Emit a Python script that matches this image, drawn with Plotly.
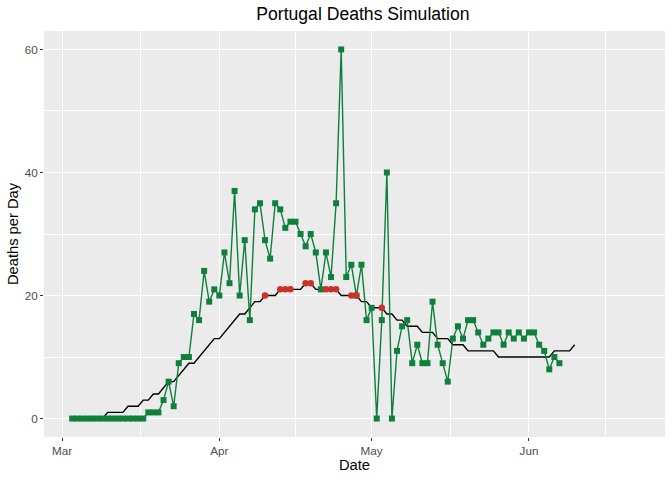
import pandas as pd
import plotly.graph_objects as go

# Observed daily deaths (green), starting 2020-03-03
deaths = [0, 0, 0, 0, 0, 0, 0, 0, 0, 0, 0, 0, 0, 0, 0,
          1, 1, 1, 3, 6, 2, 9, 10, 10, 17, 16, 24, 19, 21, 20,
          27, 22, 37, 20, 29, 16, 34, 35, 29, 26, 35, 34, 31, 32, 32,
          30, 28, 30, 27, 21, 27, 23, 35, 60, 23, 25, 20, 25, 16, 18,
          0, 16, 40, 0, 11, 15, 16, 9, 12, 9, 9, 19, 12, 9, 6,
          13, 15, 13, 16, 16, 14, 12, 13, 14, 14, 12, 14, 13, 14, 13,
          14, 14, 12, 11, 8, 10, 9]

# Simulated daily deaths (black), starting 2020-03-03
sim = [0, 0, 0, 0, 0, 0, 0, 1, 1, 1, 1, 2, 2, 2, 3, 3, 4, 4, 5, 6,
       6, 7, 8, 9, 9, 10, 11, 12, 13, 13, 14, 15, 16, 17, 17, 18, 19, 19, 20, 20,
       20, 21, 21, 21, 21, 21, 22, 22, 21, 21, 21, 21, 21, 20, 20, 20, 20, 19, 19, 18,
       18, 18, 17, 17, 16, 16, 15, 15, 15, 14, 14, 14, 13, 13, 13, 12, 12, 12, 11, 11,
       11, 11, 11, 11, 10, 10, 10, 10, 10, 10, 10, 10, 10, 10, 10, 11, 11, 11, 11, 12]

# Highlighted simulation days (red)
red_dates = ["2020-04-10", "2020-04-13", "2020-04-14", "2020-04-15", "2020-04-18", "2020-04-19",
             "2020-04-22", "2020-04-23", "2020-04-24", "2020-04-27", "2020-04-28", "2020-05-03"]
red_vals = [20, 21, 21, 21, 22, 22, 21, 21, 21, 20, 20, 18]

death_dates = pd.date_range("2020-03-03", periods=len(deaths), freq="D")
sim_dates = pd.date_range("2020-03-03", periods=len(sim), freq="D")

green = "#0E803C"
red = "#CB3029"

fig = go.Figure()

fig.add_trace(go.Scatter(x=sim_dates, y=sim, mode="lines",
                         line=dict(color="black", width=1.4)))

fig.add_trace(go.Scatter(x=death_dates, y=deaths, mode="lines+markers",
                         line=dict(color=green, width=1.4),
                         marker=dict(symbol="square", size=6, color=green)))

fig.add_trace(go.Scatter(x=red_dates, y=red_vals, mode="markers",
                         marker=dict(symbol="circle", size=6.5, color=red)))

font = "Liberation Sans, Arial, sans-serif"

fig.update_layout(
    width=672, height=480,
    margin=dict(l=44, r=7, t=31, b=42.5),
    paper_bgcolor="white",
    plot_bgcolor="#EBEBEB",
    showlegend=False,
    font=dict(family=font, color="#4D4D4D"),
    title=dict(text="Portugal Deaths Simulation", x=0.54, xanchor="center",
               y=1 - 14 / 480, yanchor="middle",
               font=dict(size=17.6, color="black", family=font)),
)

fig.update_xaxes(
    range=["2020-02-26 10:48", "2020-06-27 19:12"],
    tickvals=["2020-03-01", "2020-04-01", "2020-05-01", "2020-06-01"],
    tickformat="%b",
    ticks="outside", ticklen=3, tickcolor="#333333", tickwidth=1,
    tickfont=dict(size=11.7, color="#4D4D4D"),
    showgrid=True, gridcolor="white", gridwidth=1.4,
    minor=dict(tickmode="array",
               tickvals=["2020-03-16 12:00", "2020-04-16", "2020-05-16 12:00", "2020-06-16"],
               showgrid=True, gridcolor="white", gridwidth=0.7, ticks=""),
    zeroline=False, showline=False, automargin=False,
    title=dict(text="Date", font=dict(size=14.7, color="black"), standoff=3),
)

fig.update_yaxes(
    range=[-3, 63],
    tickvals=[0, 20, 40, 60],
    ticks="outside", ticklen=3, tickcolor="#333333", tickwidth=1,
    tickfont=dict(size=11.7, color="#4D4D4D"),
    showgrid=True, gridcolor="white", gridwidth=1.4,
    minor=dict(tickmode="array", tickvals=[10, 30, 50],
               showgrid=True, gridcolor="white", gridwidth=0.7, ticks=""),
    zeroline=False, showline=False, automargin=False,
    title=dict(text="Deaths per Day", font=dict(size=14.7, color="black"), standoff=2),
)

fig.write_html("out.html", config={"displayModeBar": False},
               post_script="document.body.style.margin='0';")
